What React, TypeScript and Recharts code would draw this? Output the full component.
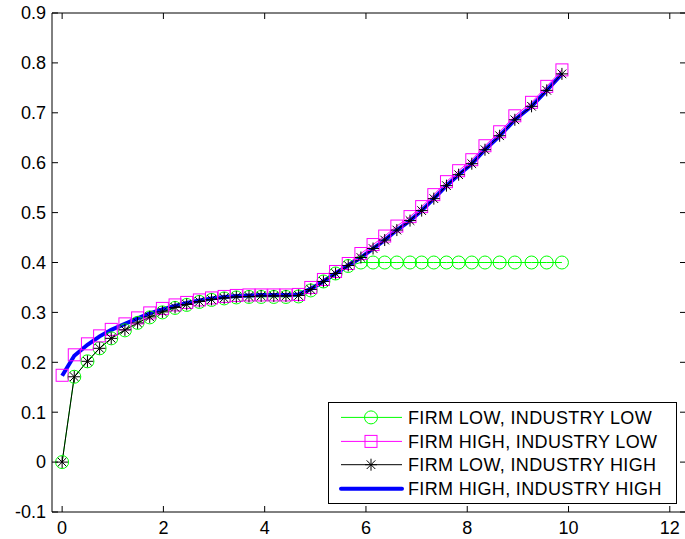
import React from "react";
import { LineChart, Line, XAxis, YAxis } from "recharts";

// grid of x positions
const xValues = [
  0, 0.24, 0.5, 0.74, 0.97, 1.24, 1.49, 1.73, 1.98, 2.23,
  2.46, 2.71, 2.95, 3.2, 3.44, 3.69, 3.93, 4.18, 4.42, 4.67,
  4.91, 5.16, 5.4, 5.65, 5.9, 6.14, 6.37, 6.61, 6.87, 7.1,
  7.34, 7.59, 7.83, 8.09, 8.35, 8.64, 8.94, 9.27, 9.57, 9.87,
];

const firmLowIndLow = [
  0, 0.171, 0.202, 0.228, 0.248, 0.264, 0.279, 0.29, 0.3, 0.309,
  0.315, 0.321, 0.325, 0.328, 0.33, 0.331, 0.331, 0.331, 0.331, 0.332,
  0.344, 0.362, 0.378, 0.393, 0.4, 0.4, 0.4, 0.4, 0.4, 0.4,
  0.4, 0.4, 0.4, 0.4, 0.4, 0.4, 0.4, 0.4, 0.4, 0.4,
];

const firmHighIndLow = [
  0.174, 0.215, 0.237, 0.253, 0.266, 0.277, 0.289, 0.299, 0.308, 0.315,
  0.32, 0.325, 0.329, 0.332, 0.334, 0.335, 0.335, 0.335, 0.335, 0.336,
  0.35, 0.366, 0.382, 0.398, 0.418, 0.436, 0.453, 0.473, 0.492, 0.512,
  0.536, 0.562, 0.584, 0.606, 0.634, 0.662, 0.694, 0.721, 0.753, 0.786,
];

const firmLowIndHigh = [
  0, 0.171, 0.202, 0.228, 0.248, 0.265, 0.279, 0.291, 0.301, 0.31,
  0.316, 0.322, 0.326, 0.329, 0.331, 0.332, 0.333, 0.333, 0.333, 0.334,
  0.346, 0.362, 0.378, 0.394, 0.41, 0.428, 0.445, 0.465, 0.484, 0.504,
  0.528, 0.554, 0.576, 0.598, 0.626, 0.654, 0.686, 0.713, 0.745, 0.778,
];

const firmHighIndHigh = [
  0.173, 0.213, 0.235, 0.252, 0.265, 0.277, 0.288, 0.298, 0.306, 0.313,
  0.319, 0.324, 0.328, 0.331, 0.333, 0.334, 0.335, 0.335, 0.335, 0.336,
  0.347, 0.362, 0.378, 0.394, 0.41, 0.428, 0.445, 0.465, 0.484, 0.504,
  0.528, 0.554, 0.576, 0.598, 0.626, 0.654, 0.686, 0.713, 0.745, 0.778,
];

const xTicks = [0, 2, 4, 6, 8, 10, 12];
const yTicks = [-0.1, 0, 0.1, 0.2, 0.3, 0.4, 0.5, 0.6, 0.7, 0.8, 0.9];

const seriesNames = [
  "FIRM LOW, INDUSTRY LOW",
  "FIRM HIGH, INDUSTRY LOW",
  "FIRM LOW, INDUSTRY HIGH",
  "FIRM HIGH, INDUSTRY HIGH",
];

const data = xValues.map((x, i) => ({
  x,
  ll: firmLowIndLow[i],
  hl: firmHighIndLow[i],
  lh: firmLowIndHigh[i],
  hh: firmHighIndHigh[i],
}));

const FONT = "'Liberation Sans', Arial, Helvetica, sans-serif";
const TICK_LEN = 6;
const X_MARGIN = 9;
const Y_MARGIN = 6;

const GREEN = "#00ff00";
const MAGENTA = "#ff00ff";
const BLUE = "#0000ff";

function CircleMark({ cx, cy }: { cx: number; cy: number }) {
  return <circle cx={cx} cy={cy} r={6.5} fill="none" stroke={GREEN} strokeWidth={1} />;
}

function SquareMark({ cx, cy }: { cx: number; cy: number }) {
  return <rect x={cx - 6} y={cy - 6} width={12} height={12} fill="none" stroke={MAGENTA} strokeWidth={1} />;
}

function StarMark({ cx, cy }: { cx: number; cy: number }) {
  const r = 6;
  const d = 4.3;
  return (
    <g stroke="#000" strokeWidth={1}>
      <line x1={cx - r} y1={cy} x2={cx + r} y2={cy} />
      <line x1={cx} y1={cy - r} x2={cx} y2={cy + r} />
      <line x1={cx - d} y1={cy - d} x2={cx + d} y2={cy + d} />
      <line x1={cx - d} y1={cy + d} x2={cx + d} y2={cy - d} />
    </g>
  );
}

const BottomTick = (props: any) => {
  const { x, y, payload } = props;
  const axisY = y - X_MARGIN;
  return (
    <g>
      <line x1={x} x2={x} y1={axisY} y2={axisY - TICK_LEN} stroke="#000" />
      <text x={x} y={y} dy="0.71em" textAnchor="middle" fontSize={18} fontFamily={FONT} fill="#000">
        {payload.value}
      </text>
    </g>
  );
};

const TopTick = (props: any) => {
  const { x, y } = props;
  return <line x1={x} x2={x} y1={y} y2={y + TICK_LEN} stroke="#000" />;
};

const LeftTick = (props: any) => {
  const { x, y, payload } = props;
  const axisX = x + Y_MARGIN;
  return (
    <g>
      <line x1={axisX} x2={axisX + TICK_LEN} y1={y} y2={y} stroke="#000" />
      <text x={x} y={y} dy="0.355em" textAnchor="end" fontSize={18} fontFamily={FONT} fill="#000">
        {String(payload.value)}
      </text>
    </g>
  );
};

const RightTick = (props: any) => {
  const { x, y } = props;
  return <line x1={x - TICK_LEN} x2={x} y1={y} y2={y} stroke="#000" />;
};

function LegendBox() {
  const rows = [15.4, 39.4, 62.7, 86.7];
  const marks = [
    (cy: number) => <CircleMark cx={43} cy={cy} />,
    (cy: number) => <SquareMark cx={43} cy={cy} />,
    (cy: number) => <StarMark cx={43} cy={cy} />,
    () => null,
  ];
  const lineStyle = [
    { stroke: GREEN, w: 1 },
    { stroke: MAGENTA, w: 1 },
    { stroke: "#000", w: 1 },
    { stroke: BLUE, w: 4 },
  ];
  return (
    <svg
      width={349}
      height={102}
      style={{ position: "absolute", left: 328, top: 402 }}
    >
      <rect x={0.5} y={0.5} width={348} height={101} fill="#fff" stroke="#000" strokeWidth={1} />
      {seriesNames.map((name, i) => (
        <g key={name}>
          <line
            x1={13}
            x2={74}
            y1={rows[i]}
            y2={rows[i]}
            stroke={lineStyle[i].stroke}
            strokeWidth={lineStyle[i].w}
            strokeLinecap={lineStyle[i].w > 1 ? "round" : "butt"}
          />
          {marks[i](rows[i])}
          <text
            x={80}
            y={rows[i]}
            dy="0.355em"
            fontSize={18}
            fontFamily={FONT}
            letterSpacing={0.35}
            fill="#000"
          >
            {name}
          </text>
        </g>
      ))}
    </svg>
  );
}

export default function App() {
  return (
    <div
      style={{
        position: "fixed",
        left: 0,
        top: 0,
        width: 685,
        height: 539,
        overflow: "hidden",
        background: "#fff",
      }}
    >
      <LineChart width={687} height={539} data={data} margin={{ top: 12, right: 0, bottom: 0, left: 0 }}>
        <XAxis
          dataKey="x"
          type="number"
          domain={[-0.2, 12.32]}
          ticks={xTicks}
          allowDataOverflow
          height={27}
          tickSize={0}
          tickMargin={X_MARGIN}
          tickLine={false}
          axisLine={{ stroke: "#000" }}
          tick={BottomTick}
          interval={0}
        />
        <XAxis
          xAxisId="top"
          orientation="top"
          dataKey="x"
          type="number"
          domain={[-0.2, 12.32]}
          ticks={xTicks}
          allowDataOverflow
          height={1}
          tickSize={0}
          tickMargin={0}
          tickLine={false}
          axisLine={{ stroke: "#000" }}
          tick={TopTick}
          interval={0}
        />
        <YAxis
          type="number"
          domain={[-0.1, 0.9]}
          ticks={yTicks}
          allowDataOverflow
          width={52}
          tickSize={0}
          tickMargin={Y_MARGIN}
          tickLine={false}
          axisLine={{ stroke: "#000" }}
          tick={LeftTick}
          interval={0}
        />
        <YAxis
          yAxisId="right"
          orientation="right"
          type="number"
          domain={[-0.1, 0.9]}
          ticks={yTicks}
          allowDataOverflow
          width={1}
          tickSize={0}
          tickMargin={0}
          tickLine={false}
          axisLine={{ stroke: "#000" }}
          tick={RightTick}
          interval={0}
        />
        <Line
          dataKey="ll"
          stroke={GREEN}
          strokeWidth={1}
          isAnimationActive={false}
          dot={(p: any) => <CircleMark key={`ll-${p.index}`} cx={p.cx} cy={p.cy} />}
          activeDot={false}
          type="linear"
        />
        <Line
          dataKey="hl"
          stroke={MAGENTA}
          strokeWidth={1}
          isAnimationActive={false}
          dot={(p: any) => <SquareMark key={`hl-${p.index}`} cx={p.cx} cy={p.cy} />}
          activeDot={false}
          type="linear"
        />
        <Line
          dataKey="hh"
          stroke={BLUE}
          strokeWidth={4}
          isAnimationActive={false}
          dot={false}
          activeDot={false}
          type="linear"
        />
        <Line
          dataKey="lh"
          stroke="#000"
          strokeWidth={1}
          isAnimationActive={false}
          dot={(p: any) => <StarMark key={`lh-${p.index}`} cx={p.cx} cy={p.cy} />}
          activeDot={false}
          type="linear"
        />
      </LineChart>
      <LegendBox />
    </div>
  );
}
